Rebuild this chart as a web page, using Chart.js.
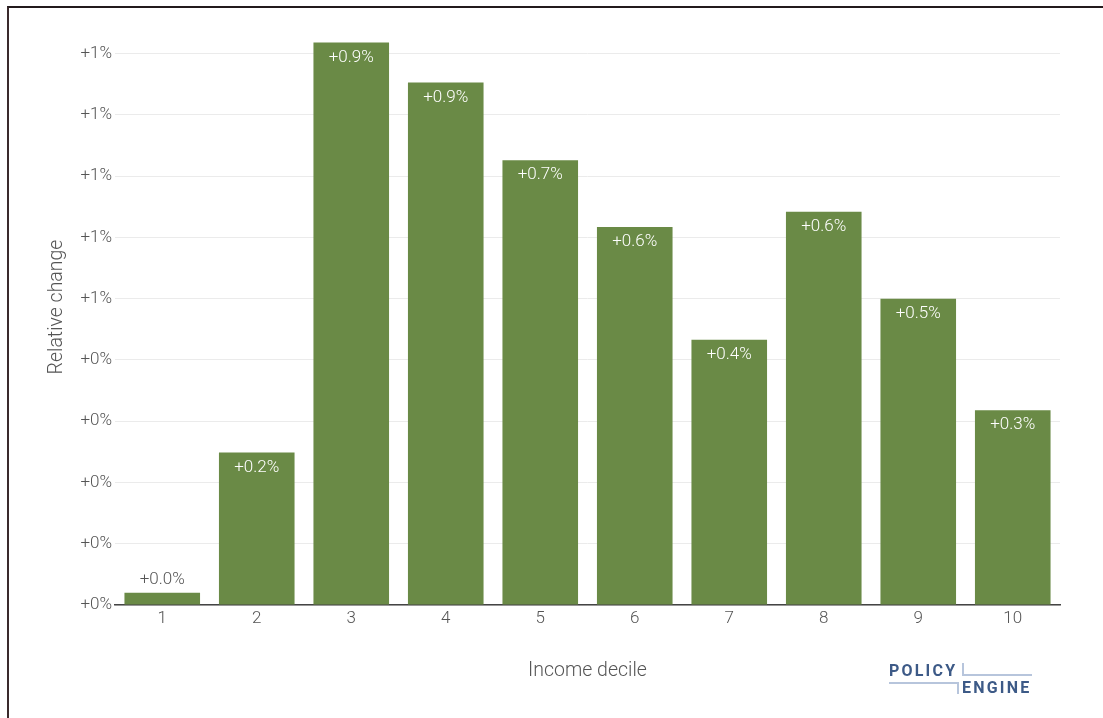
<!DOCTYPE html>
<html>
<head>
<meta charset="utf-8">
<script src="https://cdn.jsdelivr.net/npm/chart.js@4"></script>
<style>
  html, body { margin: 0; padding: 0; background: #fff; }
  #wrap { position: relative; width: 1103px; height: 718px; overflow: hidden; }
  #frame { position: absolute; left: 7px; top: 6px; width: 1100px; height: 720px;
           border-top: 2px solid #231a1c; border-left: 2px solid #3a2a2c; }
  canvas { position: absolute; left: 0; top: 0; }
  .logo { position: absolute; font-family: Roboto, sans-serif; font-weight: 700;
          font-size: 16px; letter-spacing: 2.2px; color: #3d5a87; line-height: 1; }
  .ln { position: absolute; background: #b7c5dc; }
</style>
</head>
<body>
<div id="wrap">
  <canvas id="chart" width="1103" height="718"></canvas>
  <div id="frame"></div>
  <!-- Logo PolicyEngine -->
  <div class="logo" style="left:889px; top:663px;">POLICY</div>
  <div class="logo" style="left:962px; top:680px;">ENGINE</div>
  <div class="ln" style="left:962px; top:663px; width:2px; height:13px;"></div>
  <div class="ln" style="left:962px; top:674px; width:70px; height:2px;"></div>
  <div class="ln" style="left:889px; top:682px; width:70px; height:2px;"></div>
  <div class="ln" style="left:957px; top:682px; width:2px; height:12px;"></div>
</div>
<script>
// Daten
const deciles = ['1', '2', '3', '4', '5', '6', '7', '8', '9', '10'];
const relChange = [0.02, 0.249, 0.918, 0.853, 0.726, 0.617, 0.433, 0.642, 0.5, 0.318]; // in %
const yMax = 0.966;
const yStep = 0.1;

const barColor = '#6a8a46';
const textGrey = '#555555';

// Beschriftungen auf den Balken + Achsentitel
const barLabels = {
  id: 'barLabels',
  afterDatasetsDraw(chart) {
    const ctx = chart.ctx;
    const meta = chart.getDatasetMeta(0);
    ctx.save();
    ctx.font = '300 17px Roboto';
    ctx.textAlign = 'center';
    ctx.textBaseline = 'middle';
    meta.data.forEach(function(bar, i) {
      const txt = '+' + relChange[i].toFixed(1) + '%';
      const h = bar.base - bar.y;
      if (h > 30) {
        ctx.fillStyle = '#ffffff';
        ctx.fillText(txt, bar.x, bar.y + 15);
      } else {
        ctx.fillStyle = textGrey;
        ctx.fillText(txt, bar.x, bar.y - 13);
      }
    });
    ctx.restore();
  },
  afterDraw(chart) {
    const ctx = chart.ctx;
    const area = chart.chartArea;
    ctx.save();
    ctx.fillStyle = textGrey;
    ctx.font = '300 19.5px Roboto';
    ctx.textAlign = 'center';
    ctx.textBaseline = 'middle';
    ctx.fillText('Income decile', (area.left + area.right) / 2, 671);
    ctx.translate(57, 307);
    ctx.rotate(-Math.PI / 2);
    ctx.fillText('Relative change', 0, 0);
    ctx.restore();
  }
};

const ctx = document.getElementById('chart').getContext('2d');
const chart = new Chart(ctx, {
  type: 'bar',
  data: {
    labels: deciles,
    datasets: [{
      data: relChange,
      backgroundColor: barColor,
      borderWidth: 0,
      barPercentage: 0.8,
      categoryPercentage: 1.0
    }]
  },
  options: {
    responsive: false,
    animation: false,
    layout: { padding: { left: 0, right: 43, top: 12, bottom: 0 } },
    plugins: {
      legend: { display: false },
      tooltip: { enabled: false }
    },
    scales: {
      x: {
        afterFit(scale) { scale.height = 113; },
        grid: { display: false, drawTicks: false },
        border: { display: true, color: '#444444', width: 1.5 },
        ticks: { color: textGrey, font: { family: 'Roboto', size: 17, weight: 300 }, padding: 4 }
      },
      y: {
        min: 0,
        max: yMax,
        afterFit(scale) { scale.width = 115; },
        afterBuildTicks(scale) {
          // nur die 0.1-Schritte behalten
          scale.ticks = scale.ticks.filter(t => Math.abs(t.value / yStep - Math.round(t.value / yStep)) < 1e-6);
        },
        grid: { color: '#ebebeb', lineWidth: 1, drawTicks: false },
        border: { display: false },
        ticks: {
          stepSize: yStep,
          padding: 3,
          color: textGrey,
          font: { family: 'Roboto', size: 17, weight: 300 },
          callback: v => '+' + Math.round(v) + '%'
        }
      }
    }
  },
  plugins: [barLabels]
});
</script>
</body>
</html>
